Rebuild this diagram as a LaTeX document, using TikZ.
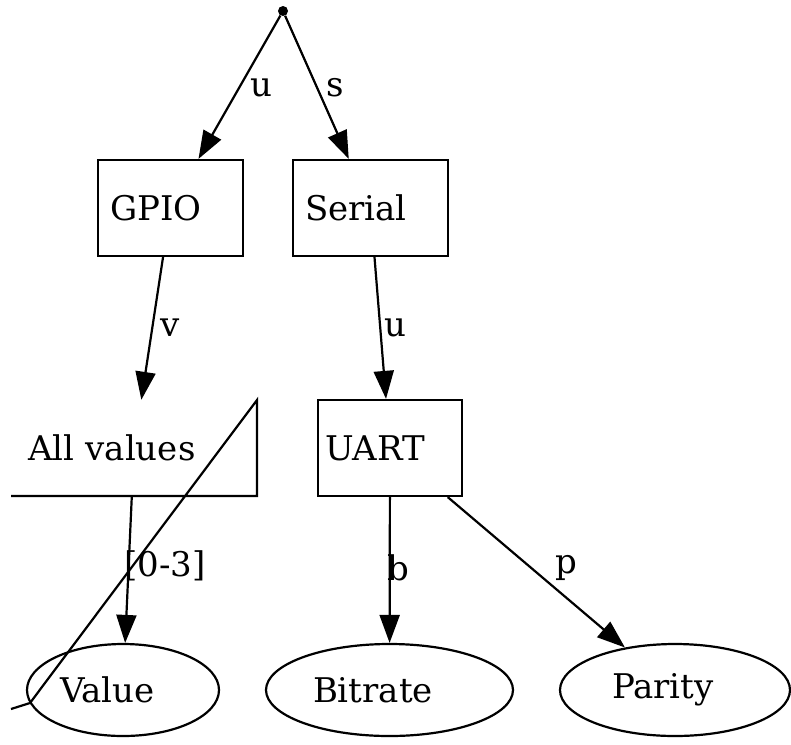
\documentclass[tikz,border=0pt]{standalone}
\usepackage{fontspec}
\setmainfont{DejaVu Serif}
\usetikzlibrary{arrows.meta,shapes.geometric}
\tikzset{>={Triangle[length=28pt,width=20pt]}}
\tikzset{
  box/.style={draw,rectangle,line width=2.2pt,minimum height=96pt,align=left,inner xsep=12pt},
  leaf/.style={draw,ellipse,line width=2.2pt,minimum width=192pt,minimum height=92pt,align=left,inner sep=0pt},
  edge/.style={->,line width=2.2pt},
  lbl/.style={inner sep=0pt}
}

\begin{document}
\begin{tikzpicture}[x=1pt,y=-1pt,font=\fontsize{34}{38}\selectfont]
    \useasboundingbox (0,0) rectangle (791,744);
    \node[fill,circle,inner sep=0pt,minimum size=10pt] (root) at (283,11) {};

    \node[box,text width=121pt] (gpio) at (170.5,208) {GPIO};
    \node[box,text width=131pt] (serial) at (370.5,208) {Serial};
    \node[rectangle,minimum height=96pt,inner sep=0pt,text width=212pt,align=left] (allv) at (134,448) {All values};
    \node[box,inner xsep=7pt,text width=130pt] (uart) at (390,448) {UART};

    \node[leaf,text width=126pt] (value) at (123,690) {Value};
    \node[leaf,minimum width=247pt,text width=153pt] (bitrate) at (389.5,690) {Bitrate};
    \node[leaf,minimum width=230pt,text width=126pt] (parity) at (675,690) {Parity};

    % odd outline round "All values"
    \draw[line width=2.2pt] (11,496) -- (257,496) -- (257,400) -- (30,703) -- (11,709);

    \draw[edge] (root) -- (gpio);
    \draw[edge] (root) -- (serial);
    \draw[edge] (gpio) -- (allv);
    \draw[edge] (allv) -- (value);
    \draw[edge] (serial) -- (uart);
    \draw[edge] (uart) -- (bitrate);
    \draw[edge] (uart) -- (parity);

    \node[lbl] (lu) at (261,88) {u};
    \node[lbl] (ls) at (335,88) {s};
    \node[lbl] (lv) at (170,328) {v};
    \node[lbl] (lrange) at (165,566) {[0-3]};
    \node[lbl] (lu2) at (395,328) {u};
    \node[lbl] (lb) at (398,568) {b};
    \node[lbl] (lp) at (566,568) {p};
\end{tikzpicture}
\end{document}
